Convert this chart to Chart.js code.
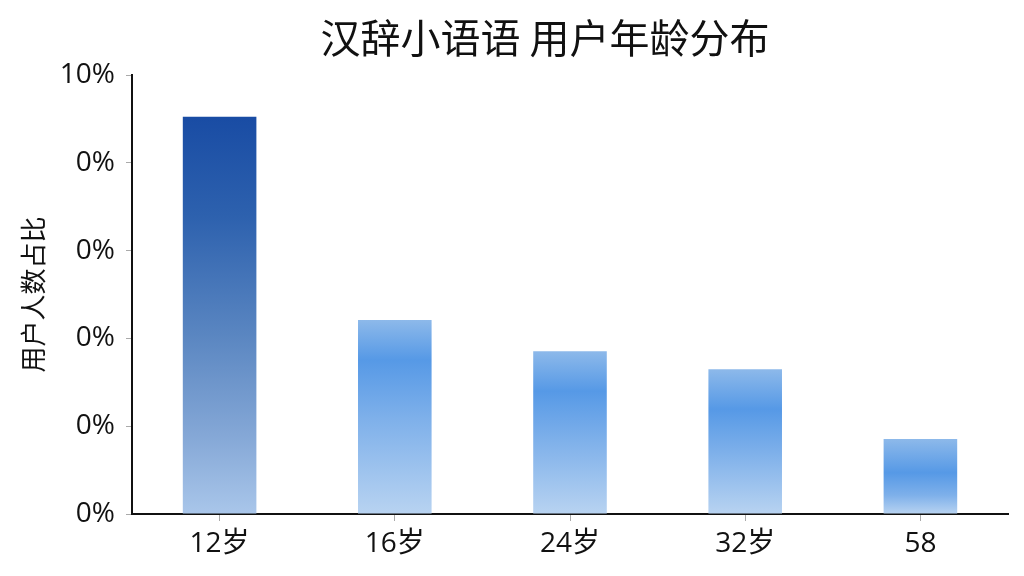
<!DOCTYPE html>
<html><head><meta charset="utf-8">
<script src="https://cdn.jsdelivr.net/npm/chart.js@4"></script>
<style>html,body{margin:0;padding:0;background:#fff}#wrap{width:1024px;height:576px;position:relative}</style>
</head><body><div id="wrap"><canvas id="c"></canvas></div>
<script>
const titleText = '汉辞小语语 用户年龄分布';
const yAxisTitle = '用户人数占比';
const categories = ['12岁', '16岁', '24岁', '32岁', '58'];
const values = [9.05, 4.42, 3.71, 3.30, 1.71];
const tickLabels = ['0%', '0%', '0%', '0%', '0%', '10%'];

const FONT = '"Noto Sans CJK SC", "Noto Sans", sans-serif';
const TICKFONT = '"Open Sans", "Noto Sans CJK SC", sans-serif';

function barFill(ctx) {
  const chart = ctx.chart;
  const ys = chart.scales && chart.scales.y;
  if (!ys || !chart.chartArea) return '#5599e6';
  const v = ctx.raw;
  const top = ys.getPixelForValue(v);
  const bot = ys.getPixelForValue(0);
  const g = chart.ctx.createLinearGradient(0, top, 0, bot);
  if (ctx.dataIndex === 0) {
    g.addColorStop(0, '#194ca4');
    g.addColorStop(0.25, '#2d61ae');
    g.addColorStop(0.55, '#5a86c1');
    g.addColorStop(0.8, '#84a7d6');
    g.addColorStop(1, '#a9c6ea');
  } else {
    const h = Math.max(bot - top, 1);
    const s = Math.min(40 / h, 0.45);
    g.addColorStop(0, '#8db9ea');
    g.addColorStop(s, '#5699e6');
    g.addColorStop(Math.min(s + 0.3, 0.8), '#7eb0ea');
    g.addColorStop(1, '#b8d3f1');
  }
  return g;
}

const titlePlugin = {
  id: 'customTitle',
  afterDraw(chart) {
    const c = chart.ctx;
    c.save();
    c.font = '40px ' + FONT;
    c.fillStyle = '#111';
    c.textAlign = 'center';
    c.textBaseline = 'middle';
    c.fillText(titleText, 545, 38);
    c.restore();
  }
};

new Chart(document.getElementById('c'), {
  type: 'bar',
  data: {
    labels: categories,
    datasets: [{
      data: values,
      backgroundColor: barFill,
      borderWidth: 0,
      barPercentage: 0.42,
      categoryPercentage: 1
    }]
  },
  options: {
    responsive: true,
    maintainAspectRatio: false,
    devicePixelRatio: 1,
    animation: false,
    layout: { padding: { top: 75, right: 16, bottom: 0, left: 0 } },
    plugins: { legend: { display: false }, title: { display: false }, tooltip: { enabled: false } },
    scales: {
      x: {
        grid: { drawOnChartArea: false, drawTicks: true, tickLength: 7, color: '#aaa', offset: false },
        border: { display: true, color: '#111', width: 2 },
        ticks: { color: '#111', font: { family: TICKFONT, size: 28 }, padding: 6 },
        afterFit(scale) { scale.height = 62; }
      },
      y: {
        min: 0, max: 10,
        ticks: {
          stepSize: 2,
          color: '#111',
          font: { family: TICKFONT, size: 28 },
          padding: 11,
          callback: (v, i) => tickLabels[i]
        },
        grid: { drawOnChartArea: false, drawTicks: true, tickLength: 6, color: '#aaa' },
        border: { display: true, color: '#111', width: 2 },
        title: { display: true, text: yAxisTitle, color: '#111', font: { family: FONT, size: 26 }, padding: { top: 18, bottom: 6 } },
        afterFit(scale) { scale.width = 132; }
      }
    }
  },
  plugins: [titlePlugin]
});
</script>
</body></html>
